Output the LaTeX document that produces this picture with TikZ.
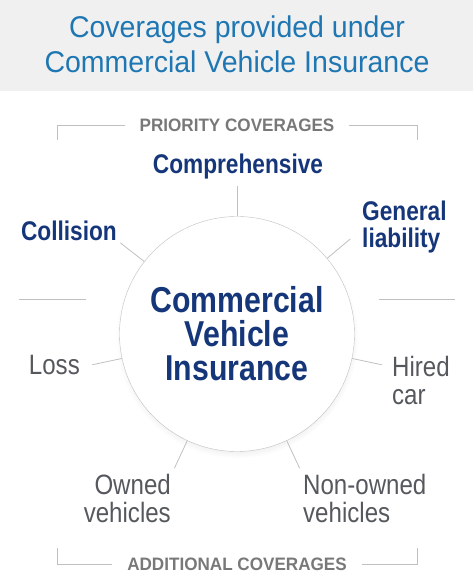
\documentclass[tikz,border=0pt]{standalone}
\usepackage{fontspec}
\setmainfont{Liberation Sans}[FakeStretch=0.95]
\newfontfamily\plainfont{Liberation Sans}[FakeStretch=0.86]
\newfontfamily\condfont{Liberation Sans}[FakeStretch=0.84]
\usetikzlibrary{shadows}
\definecolor{titleblue}{RGB}{30,119,178}
\definecolor{navy}{RGB}{22,54,122}
\definecolor{headgray}{RGB}{120,120,120}
\definecolor{bodygray}{RGB}{85,88,92}
\definecolor{rulegray}{RGB}{192,192,192}
\definecolor{bandgray}{RGB}{240,240,240}
\tikzset{
    every node/.style={align=center,inner sep=0pt,},
    title/.style={text=titleblue,font=\fontsize{30}{35}\selectfont,},
    heading/.style={text=headgray,font=\bfseries\fontsize{18}{20}\selectfont,inner xsep=14pt,},
    priority/.style={text=navy,font=\condfont\bfseries\fontsize{27}{27}\selectfont,},
    additional/.style={text=bodygray,font=\plainfont\fontsize{28}{28}\selectfont,},
    hub/.style={circle,draw=rulegray,fill=white,minimum size=235pt,text=navy,
        font=\condfont\bfseries\fontsize{36}{34}\selectfont,
        circular drop shadow={shadow xshift=0pt,shadow yshift=-3pt,shadow scale=1.03,opacity=0.25},},
    rule/.style={draw=rulegray,line width=0.8pt,},
}

\begin{document}
\begin{tikzpicture}[x=1pt,y=1pt]
    \useasboundingbox (0,0) rectangle (474,578);
    \fill[bandgray] (0,487) rectangle (473,578);

    \node[title] (title) at (237,533.5) {Coverages provided under\\Commercial Vehicle Insurance};

    \node[heading] (prio) at (237,453) {PRIORITY COVERAGES};
    \coordinate (prio-l) at (57,438);
    \coordinate (prio-r) at (417,438);
    \draw[rule] (prio-l) |- (prio.west);
    \draw[rule] (prio-r) |- (prio.east);

    \node[priority] (comp) at (238,411) {Comprehensive};
    \node[priority,anchor=east] (coll) at (117,347) {Collision};
    \node[priority,anchor=west,align=left] (gen) at (362,351) {General\\liability};

    \node[hub] (hub) at (237,244) {Commercial\\Vehicle\\Insurance};

    \node[additional,anchor=east] (loss) at (80,212.5) {Loss};
    \node[additional,anchor=west,align=left] (hired) at (392,198) {Hired\\car};
    \node[additional,anchor=east,align=right] (owned) at (171,80) {Owned\\vehicles};
    \node[additional,anchor=west,align=left] (nonowned) at (303,80) {Non-owned\\vehicles};

    \foreach \ang/\nm in {90/comp,142/coll,40/gen,192/loss,348/hired,245/owned,295/nonowned} {
        \path (hub.center) ++(\ang:148) coordinate (tick-\nm);
        \draw[rule] (hub.\ang) -- (tick-\nm);
    }

    \coordinate (sep-la) at (19,279);
    \coordinate (sep-lb) at (86,279);
    \coordinate (sep-ra) at (379,279);
    \coordinate (sep-rb) at (455,279);
    \draw[rule] (sep-la) -- (sep-lb);
    \draw[rule] (sep-ra) -- (sep-rb);

    \node[heading,inner xsep=15pt] (addl) at (237,14) {ADDITIONAL COVERAGES};
    \coordinate (addl-l) at (57,30);
    \coordinate (addl-r) at (417,30);
    \draw[rule] (addl-l) |- (addl.west);
    \draw[rule] (addl-r) |- (addl.east);
\end{tikzpicture}
\end{document}
